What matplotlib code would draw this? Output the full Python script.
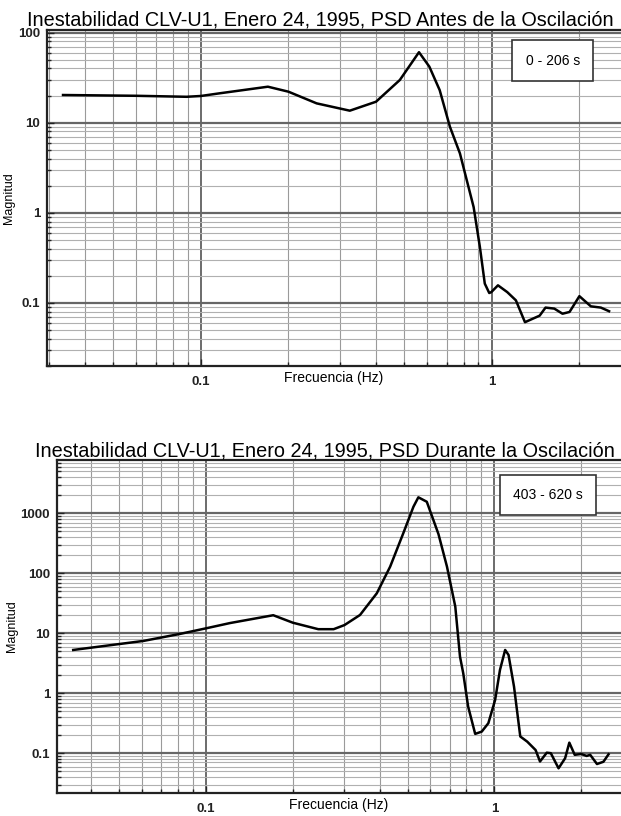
import numpy as np
import matplotlib.pyplot as plt
from matplotlib.ticker import LogLocator, NullFormatter, FixedLocator, FixedFormatter

plt.rcParams['font.family'] = ['Liberation Sans', 'DejaVu Sans']

# PSD antes de la oscilacion (0 - 206 s)
f_antes = [0.0336, 0.06, 0.0893, 0.1, 0.116, 0.170, 0.2, 0.25, 0.325, 0.4, 0.483,
           0.562, 0.61, 0.662, 0.718, 0.777, 0.866, 0.91, 0.946, 0.98, 0.996, 1.05,
           1.13, 1.21, 1.30, 1.37, 1.46, 1.53, 1.64, 1.75, 1.85, 2.0, 2.19, 2.37, 2.53]
m_antes = [20.3, 19.9, 19.4, 19.8, 21.2, 25.1, 22.1, 16.4, 13.6, 17.1, 29.8,
           60.6, 41.9, 23.0, 9.0, 4.57, 1.16, 0.418, 0.164, 0.129, 0.132, 0.157,
           0.132, 0.107, 0.0612, 0.066, 0.0723, 0.0889, 0.0866, 0.076, 0.0795, 0.119, 0.0918, 0.0889, 0.081]

# PSD durante la oscilacion (403 - 620 s)
f_durante = [0.0346, 0.0606, 0.0812, 0.1, 0.121, 0.171, 0.2, 0.245, 0.277, 0.302, 0.342,
             0.391, 0.435, 0.483, 0.524, 0.545, 0.583, 0.64, 0.685, 0.732, 0.76, 0.78,
             0.811, 0.858, 0.904, 0.953, 1.006, 1.046, 1.09, 1.12, 1.17, 1.23, 1.30, 1.39,
             1.44, 1.52, 1.57, 1.67, 1.76, 1.82, 1.90, 2.0, 2.09, 2.15, 2.27, 2.39, 2.49]
m_durante = [5.27, 7.45, 9.76, 12.1, 14.8, 20.0, 15.0, 11.7, 11.7, 13.7, 20.2,
             46.4, 129, 464, 1290, 1852, 1560, 450, 129, 27.8, 4.08, 2.15,
             0.6, 0.21, 0.229, 0.316, 0.77, 2.45, 5.27, 4.35, 1.29, 0.19, 0.156, 0.113,
             0.0727, 0.102, 0.1, 0.056, 0.0825, 0.15, 0.094, 0.097, 0.09, 0.094, 0.066, 0.072, 0.096]

fig = plt.figure(figsize=(6.21, 8.16), dpi=100)


def panel(rect, f, m, xlim, ylim, titulo, rango):
    ax = fig.add_axes(rect)
    ax.set_xscale('log')
    ax.set_yscale('log')
    ax.set_xlim(*xlim)
    ax.set_ylim(*ylim)

    # rejilla
    ax.grid(which='major', axis='x', color='#444444', lw=1.1)
    ax.grid(which='minor', axis='x', color='#9a9a9a', lw=0.8)
    ax.grid(which='major', axis='y', color='#666666', lw=1.6)
    ax.grid(which='minor', axis='y', color='#b0b0b0', lw=0.8)
    ax.set_axisbelow(True)

    ax.plot(f, m, color='black', lw=1.8)

    ax.xaxis.set_major_locator(FixedLocator([0.1, 1]))
    ax.xaxis.set_major_formatter(FixedFormatter(['0.1', '1']))
    ax.xaxis.set_minor_locator(LogLocator(base=10, subs=np.arange(2, 10)))
    ax.xaxis.set_minor_formatter(NullFormatter())
    ax.yaxis.set_major_locator(LogLocator(base=10, numticks=20))
    ax.yaxis.set_minor_locator(LogLocator(base=10, subs=np.arange(2, 10), numticks=20))
    ax.yaxis.set_minor_formatter(NullFormatter())
    ax.yaxis.set_major_formatter(plt.FuncFormatter(lambda v, p: f'{v:g}'))

    ax.tick_params(which='both', direction='in', labelsize=9.5, colors='#222222')
    ax.tick_params(which='major', length=5, width=1)
    ax.tick_params(which='minor', length=3, width=1)
    ax.tick_params(axis='x', pad=7)
    ax.tick_params(axis='y', pad=5)
    for lbl in ax.get_xticklabels() + ax.get_yticklabels():
        lbl.set_fontweight('bold')

    ax.spines['right'].set_visible(False)
    for s in ['left', 'bottom', 'top']:
        ax.spines[s].set_color('#222222')
        ax.spines[s].set_linewidth(1.6)

    ax.set_xlabel('Frecuencia (Hz)', fontsize=10, labelpad=-12)
    ax.set_ylabel('Magnitud', fontsize=9, labelpad=2)
    ax.set_title(titulo, fontsize=14.3, pad=2, x=rango[3])
    ax.text(rango[0], rango[1], rango[2], transform=ax.transAxes, fontsize=10,
            ha='center', va='center',
            bbox=dict(boxstyle='square,pad=0.95', fc='white', ec='#333333', lw=1.2))
    return ax


ax1 = panel([0.0757, 0.5515, 0.9243, 0.4118], f_antes, m_antes,
            (0.0296, 2.78), (0.02, 107),
            'Inestabilidad CLV-U1, Enero 24, 1995, PSD Antes de la Oscilación',
            (0.881, 0.909, '0 - 206 s', 0.477))
ax2 = panel([0.0918, 0.0282, 0.9082, 0.408], f_durante, m_durante,
            (0.0304, 2.75), (0.0217, 7740),
            'Inestabilidad CLV-U1, Enero 24, 1995, PSD Durante la Oscilación',
            (0.871, 0.895, '403 - 620 s', 0.475))

fig.savefig('out.png', dpi=100)
